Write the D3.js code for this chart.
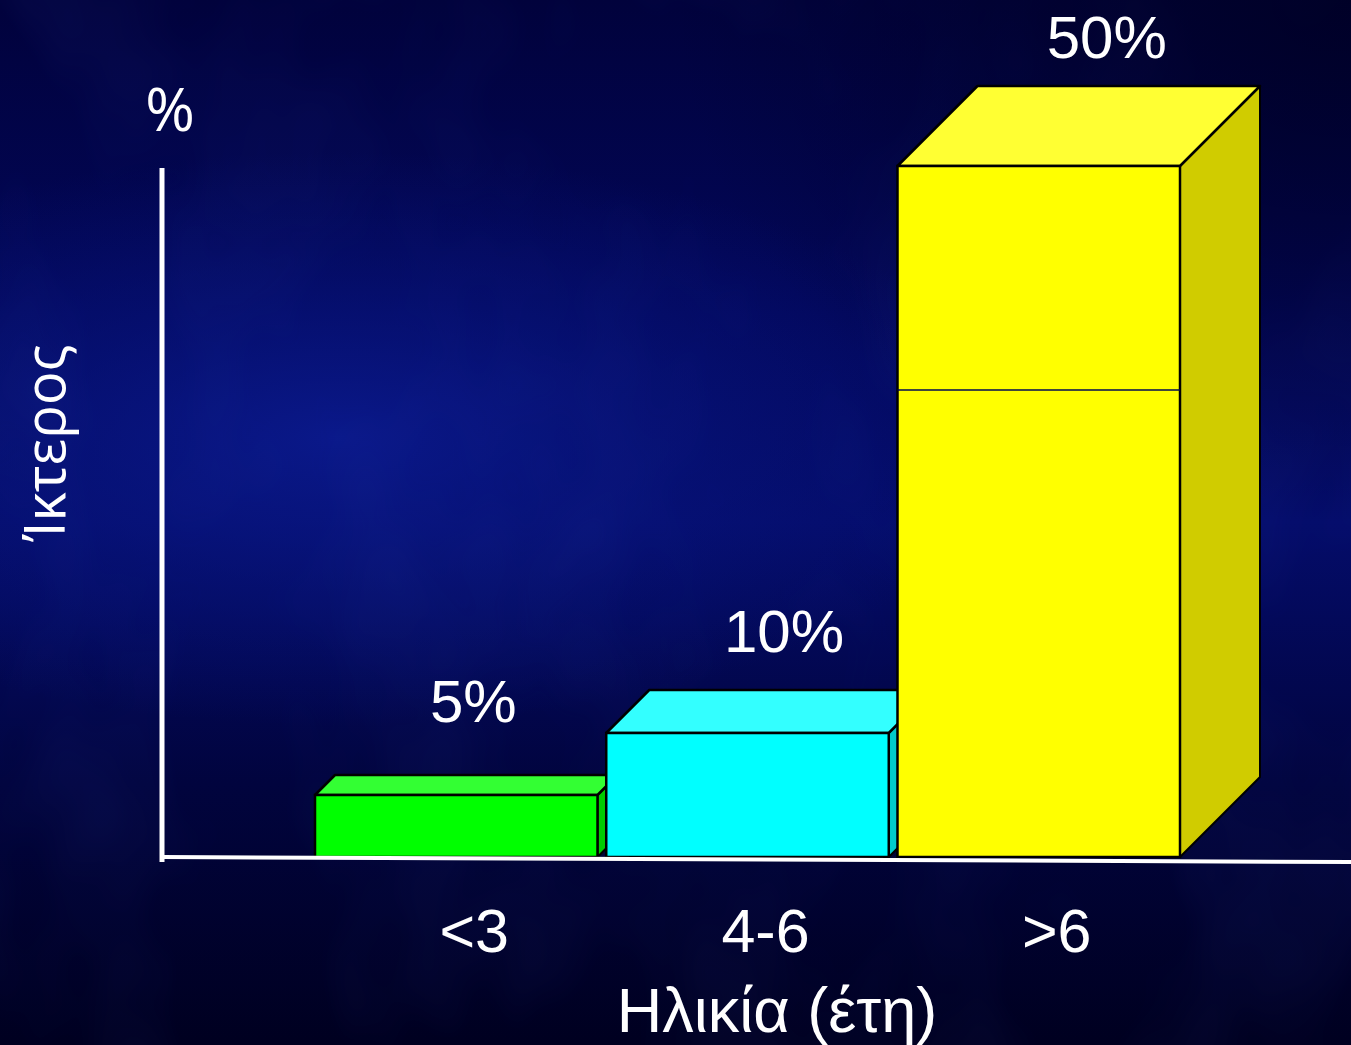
<!DOCTYPE html>
<html>
<head>
<meta charset="utf-8">
<script src="https://cdn.jsdelivr.net/npm/d3@7"></script>
<style>
  html, body { margin: 0; padding: 0; background: #00002a; }
  svg { display: block; }
</style>
</head>
<body>
<svg id="chart"></svg>
<script>
// data
var categories = ["<3", "4-6", ">6"];
var values = [5, 10, 50];
var valueLabels = ["5%", "10%", "50%"];
var yTitle = "Ίκτερος";
var yUnit = "%";
var xTitle = "Ηλικία (έτη)";

// styles per bar
var fronts = ["#00ff00", "#00ffff", "#ffff00"];
var tops = ["#33ff33", "#33ffff", "#ffff33"];
var sides = ["#00cc00", "#00cccc", "#d0cc00"];
var depths = [20, 43, 80];

var width = 1351, height = 1045;
var base = 857;
var font = "'Liberation Sans', Arial, sans-serif";

var svg = d3.select("#chart")
  .attr("width", width)
  .attr("height", height);

// background
var defs = svg.append("defs");
var lg = defs.append("linearGradient").attr("id", "bgv")
  .attr("x1", 0).attr("y1", 0).attr("x2", 0).attr("y2", 1);
lg.append("stop").attr("offset", "0%").attr("stop-color", "#01023c");
lg.append("stop").attr("offset", "30%").attr("stop-color", "#02075a");
lg.append("stop").attr("offset", "50%").attr("stop-color", "#040c6a");
lg.append("stop").attr("offset", "75%").attr("stop-color", "#01043e");
lg.append("stop").attr("offset", "100%").attr("stop-color", "#000020");

var rg = defs.append("radialGradient").attr("id", "bgr")
  .attr("cx", "25%").attr("cy", "42%").attr("r", "50%")
  .attr("gradientTransform", "translate(0.25,0.42) scale(1,0.55) translate(-0.25,-0.42)");
rg.append("stop").attr("offset", "0%").attr("stop-color", "#0b1a8e").attr("stop-opacity", 0.9);
rg.append("stop").attr("offset", "55%").attr("stop-color", "#08157f").attr("stop-opacity", 0.45);
rg.append("stop").attr("offset", "100%").attr("stop-color", "#08157f").attr("stop-opacity", 0);

var rg2 = defs.append("radialGradient").attr("id", "bgr2")
  .attr("cx", "100%").attr("cy", "0%").attr("r", "50%");
rg2.append("stop").attr("offset", "0%").attr("stop-color", "#000024").attr("stop-opacity", 0.85);
rg2.append("stop").attr("offset", "100%").attr("stop-color", "#000024").attr("stop-opacity", 0);

var filt = defs.append("filter").attr("id", "clouds")
  .attr("x", 0).attr("y", 0).attr("width", "100%").attr("height", "100%");
filt.append("feTurbulence").attr("type", "fractalNoise")
  .attr("baseFrequency", "0.006 0.004").attr("numOctaves", 3).attr("seed", 7);
filt.append("feColorMatrix").attr("type", "matrix")
  .attr("values", "0 0 0 0 0.05  0 0 0 0 0.1  0 0 0 0 0.6  0 0 0 1.2 -0.5");

svg.append("rect").attr("width", width).attr("height", height).attr("fill", "url(#bgv)");
svg.append("rect").attr("width", width).attr("height", height).attr("fill", "url(#bgr)");
svg.append("rect").attr("width", width).attr("height", height)
  .attr("filter", "url(#clouds)").attr("opacity", 0.15);
svg.append("rect").attr("width", width).attr("height", height).attr("fill", "url(#bgr2)");

// scales
var x = d3.scaleBand()
  .domain(categories)
  .range([315, 1180])
  .paddingInner(0.03);

var y = d3.scaleLinear()
  .domain([0, 10, 50])
  .range([base, 733, 166]);

// bars
var data = categories.map(function(c, i) {
  return { cat: c, value: values[i], label: valueLabels[i], i: i };
});

var bars = svg.append("g").selectAll("g.bar")
  .data(data)
  .enter()
  .append("g")
  .attr("class", "bar");

bars.each(function(d) {
  var g = d3.select(this);
  var x0 = x(d.cat), x1 = x0 + x.bandwidth();
  var yt = y(d.value), yb = y(0);
  var dp = depths[d.i];

  g.append("path")
    .attr("d", "M" + x1 + "," + yt + "L" + (x1 + dp) + "," + (yt - dp) +
      "L" + (x1 + dp) + "," + (yb - dp) + "L" + x1 + "," + yb + "Z")
    .attr("fill", sides[d.i])
    .attr("stroke", "#000")
    .attr("stroke-width", 2)
    .attr("stroke-linejoin", "round");

  g.append("path")
    .attr("d", "M" + x0 + "," + yt + "L" + (x0 + dp) + "," + (yt - dp) +
      "L" + (x1 + dp) + "," + (yt - dp) + "L" + x1 + "," + yt + "Z")
    .attr("fill", tops[d.i])
    .attr("stroke", "#000")
    .attr("stroke-width", 2.5)
    .attr("stroke-linejoin", "round");

  g.append("rect")
    .attr("x", x0)
    .attr("y", yt)
    .attr("width", x1 - x0)
    .attr("height", yb - yt)
    .attr("fill", fronts[d.i])
    .attr("stroke", "#000")
    .attr("stroke-width", 2.5);
});

// thin divider seen on the tall bar
var last = data[data.length - 1];
svg.append("line")
  .attr("x1", x(last.cat)).attr("x2", x(last.cat) + x.bandwidth())
  .attr("y1", 390).attr("y2", 390)
  .attr("stroke", "#000a50")
  .attr("stroke-width", 1.5);

// value labels
svg.append("g").selectAll("text")
  .data(data)
  .enter()
  .append("text")
  .attr("x", function(d) { return x(d.cat) + x.bandwidth() / 2 + depths[d.i] * 0.85; })
  .attr("y", function(d) { return y(d.value) - depths[d.i] - [53, 38, 28][d.i]; })
  .attr("text-anchor", "middle")
  .attr("fill", "#fff")
  .style("font-family", font)
  .style("font-size", "60px")
  .text(function(d) { return d.label; });

// axes lines
svg.append("line")
  .attr("x1", 162).attr("x2", 162)
  .attr("y1", 168).attr("y2", 862)
  .attr("stroke", "#fff").attr("stroke-width", 5);

svg.append("line")
  .attr("x1", 162).attr("y1", 857)
  .attr("x2", width).attr("y2", 862)
  .attr("stroke", "#fff").attr("stroke-width", 4);

// category labels
var xAxis = svg.append("g")
  .attr("transform", "translate(18," + 909 + ")")
  .call(d3.axisBottom(x).tickSize(0).tickPadding(0));
xAxis.select(".domain").remove();
xAxis.selectAll("text")
  .attr("dy", "0.71em")
  .attr("fill", "#fff")
  .style("font-family", font)
  .style("font-size", "61px");

// titles
svg.append("text")
  .attr("x", 777).attr("y", 1032)
  .attr("text-anchor", "middle")
  .attr("fill", "#fff")
  .style("font-family", font)
  .style("font-size", "63px")
  .text(xTitle);

svg.append("text")
  .attr("x", 170).attr("y", 131)
  .attr("text-anchor", "middle")
  .attr("fill", "#fff")
  .style("font-family", "'Open Sans', 'Noto Sans', sans-serif")
  .style("font-size", "60px")
  .text(yUnit);

svg.append("text")
  .attr("transform", "translate(65,443) rotate(-90)")
  .attr("text-anchor", "middle")
  .attr("fill", "#fff")
  .style("font-family", "'Open Sans', 'Noto Sans', sans-serif")
  .style("font-size", "56px")
  .text(yTitle);
</script>
</body>
</html>
